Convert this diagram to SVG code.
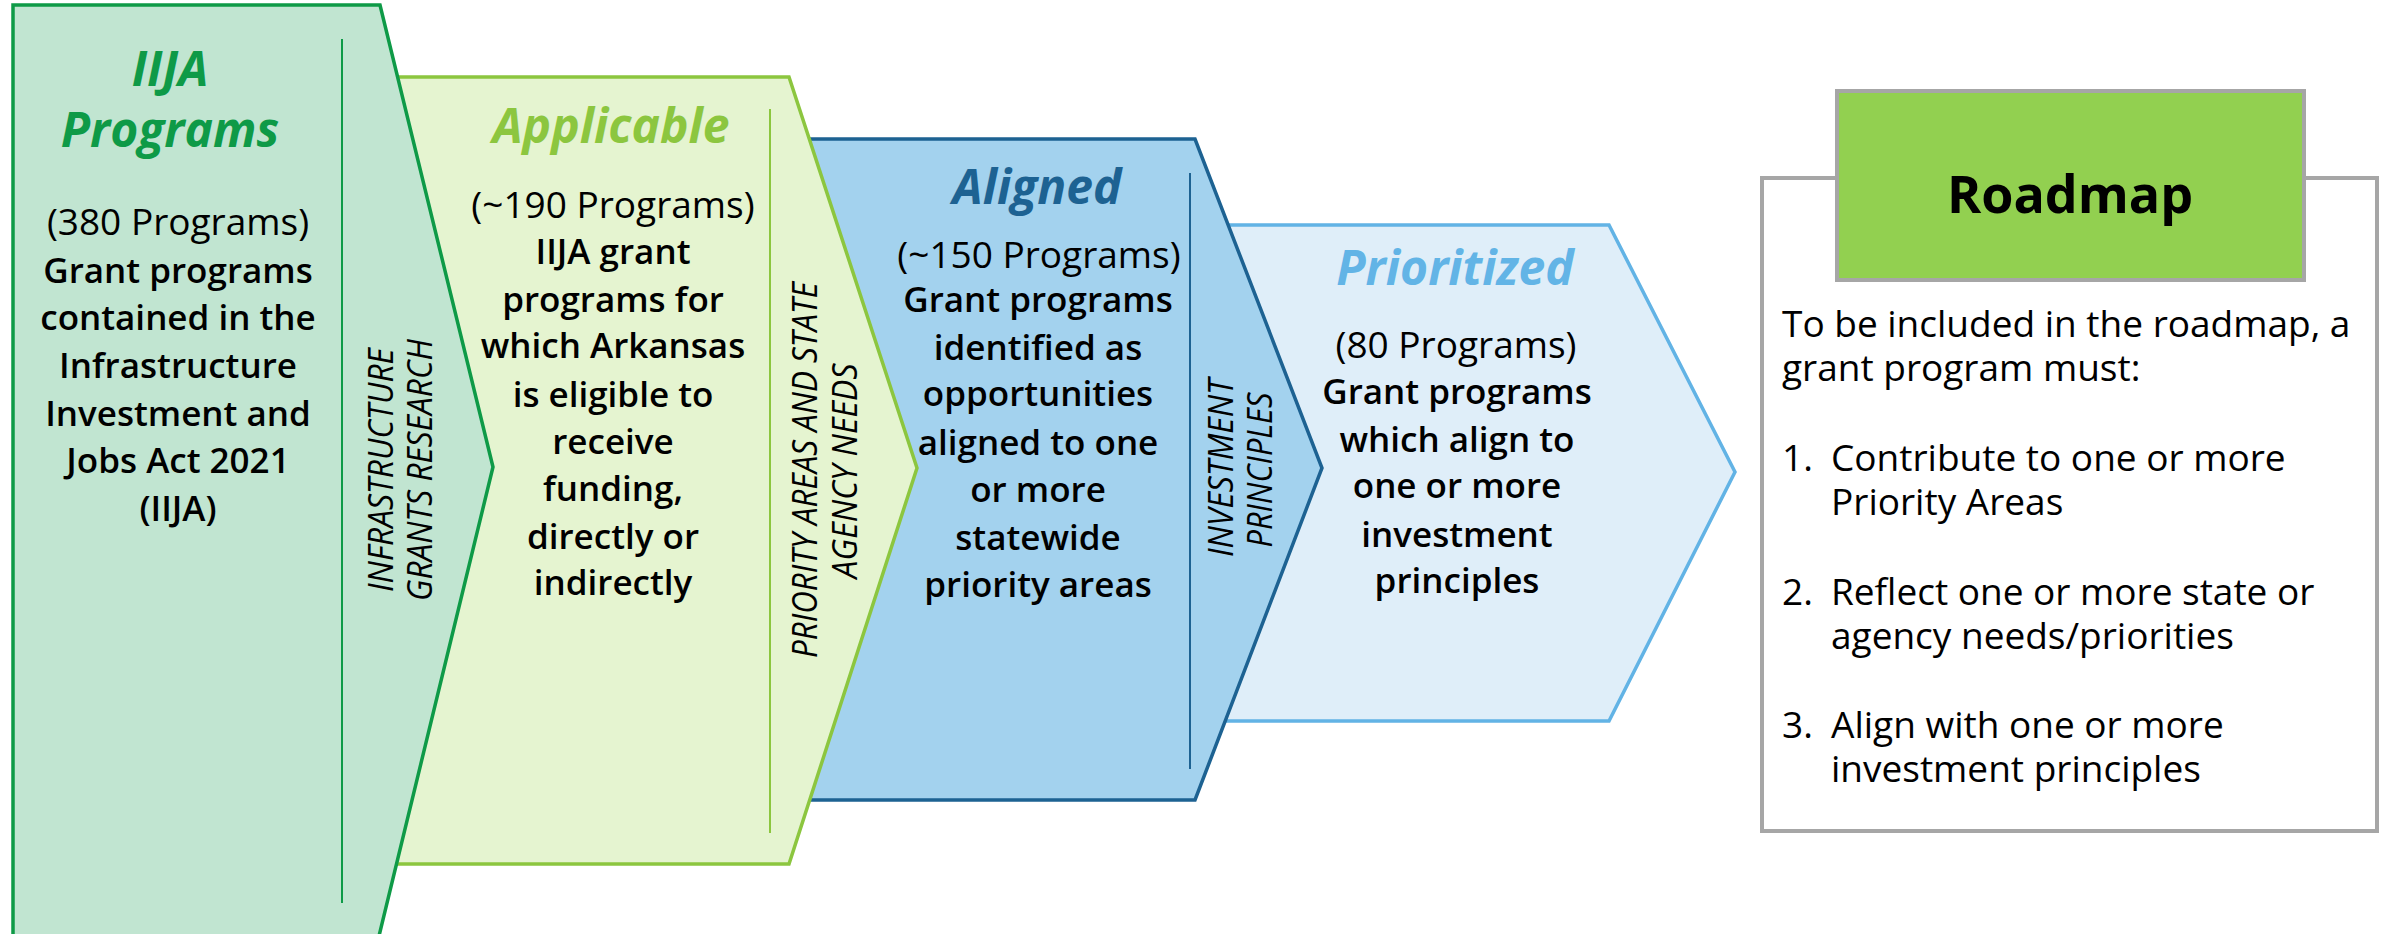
<svg xmlns="http://www.w3.org/2000/svg" width="2382" height="934" viewBox="0 0 2382 934">
<style>
.bg{fill:#ffffff}
.title{font-family:"Open Sans","Liberation Sans",sans-serif;font-weight:700;font-style:italic;font-size:48px;text-anchor:middle}
.reg{font-family:"Open Sans","Liberation Sans",sans-serif;font-weight:400;font-size:37px;text-anchor:middle;fill:#000}
.bold{font-family:"Open Sans","Liberation Sans",sans-serif;font-weight:600;font-size:35px;text-anchor:middle;fill:#000}
.lab{font-family:"Open Sans","Liberation Sans",sans-serif;font-weight:400;font-style:italic;font-size:35px;text-anchor:middle;fill:#000}
.rm{font-family:"Open Sans","Liberation Sans",sans-serif;font-weight:400;font-size:37px;fill:#000}
.n1{fill:#c1e5d1;stroke:#0e9a47;stroke-width:3.5}
.n2{fill:#e5f4d0;stroke:#8cc63f;stroke-width:3.5}
.n3{fill:#a3d2ee;stroke:#1d6292;stroke-width:3.5}
.n4{fill:#dfeef9;stroke:#62b3e5;stroke-width:3.5}
</style>
<rect class="bg" x="0" y="0" width="2382" height="934"/>
<g id="connectors"/>
<g id="node-prioritized">
  <polygon class="n4" points="1210,225 1609,225 1735,472 1609,721 1210,721"/>
  <text class="title" x="1455" y="285" fill="#62b4e6">Prioritized</text>
  <text class="reg" x="1456" y="358">(80 Programs)</text>
  <text class="bold" x="1457" y="404">Grant programs</text>
  <text class="bold" x="1457" y="452">which align to</text>
  <text class="bold" x="1457" y="498">one or more</text>
  <text class="bold" x="1457" y="547">investment</text>
  <text class="bold" x="1457" y="593">principles</text>
</g>
<g id="node-aligned">
  <polygon class="n3" points="795,139 1195,139 1322,468 1195,800 795,800"/>
  <line x1="1190" y1="173" x2="1190" y2="769" stroke="#1d6292" stroke-width="2"/>
  <text class="title" x="1037" y="204" fill="#1d6292">Aligned</text>
  <text class="reg" x="1039" y="268">(~150 Programs)</text>
  <text class="bold" x="1038" y="312">Grant programs</text>
  <text class="bold" x="1038" y="360">identified as</text>
  <text class="bold" x="1038" y="406">opportunities</text>
  <text class="bold" x="1038" y="455">aligned to one</text>
  <text class="bold" x="1038" y="502">or more</text>
  <text class="bold" x="1038" y="550">statewide</text>
  <text class="bold" x="1038" y="597">priority areas</text>
  <text class="lab" transform="translate(1233,468) rotate(-90)" textLength="178" lengthAdjust="spacingAndGlyphs">INVESTMENT</text>
  <text class="lab" transform="translate(1272,470) rotate(-90)" textLength="155" lengthAdjust="spacingAndGlyphs">PRINCIPLES</text>
</g>
<g id="node-applicable">
  <polygon class="n2" points="385,77 789,77 917,468 789,864 385,864"/>
  <line x1="770" y1="109" x2="770" y2="833" stroke="#8cc63f" stroke-width="2"/>
  <text class="title" x="611" y="143" fill="#8cc63f">Applicable</text>
  <text class="reg" x="613" y="218">(~190 Programs)</text>
  <text class="bold" x="613" y="264">IIJA grant</text>
  <text class="bold" x="613" y="312">programs for</text>
  <text class="bold" x="613" y="358">which Arkansas</text>
  <text class="bold" x="613" y="407">is eligible to</text>
  <text class="bold" x="613" y="454">receive</text>
  <text class="bold" x="613" y="501">funding,</text>
  <text class="bold" x="613" y="549">directly or</text>
  <text class="bold" x="613" y="595">indirectly</text>
  <text class="lab" transform="translate(817,470) rotate(-90)" textLength="376" lengthAdjust="spacingAndGlyphs">PRIORITY AREAS AND STATE</text>
  <text class="lab" transform="translate(857,471) rotate(-90)" textLength="215" lengthAdjust="spacingAndGlyphs">AGENCY NEEDS</text>
</g>
<g id="node-iija">
  <polygon class="n1" points="13,5 380,5 493,467 379,936 13,936"/>
  <line x1="342" y1="39" x2="342" y2="903" stroke="#0e9a47" stroke-width="2"/>
  <text class="title" x="170" y="86" fill="#0e9a47">IIJA</text>
  <text class="title" x="170" y="147" fill="#0e9a47">Programs</text>
  <text class="reg" x="178" y="235">(380 Programs)</text>
  <text class="bold" x="178" y="283">Grant programs</text>
  <text class="bold" x="178" y="330">contained in the</text>
  <text class="bold" x="178" y="378">Infrastructure</text>
  <text class="bold" x="178" y="426">Investment and</text>
  <text class="bold" x="178" y="473">Jobs Act 2021</text>
  <text class="bold" x="178" y="521">(IIJA)</text>
  <text class="lab" transform="translate(393,470) rotate(-90)" textLength="244" lengthAdjust="spacingAndGlyphs">INFRASTRUCTURE</text>
  <text class="lab" transform="translate(432,470) rotate(-90)" textLength="262" lengthAdjust="spacingAndGlyphs">GRANTS RESEARCH</text>
</g>
<g id="node-roadmap">
  <rect x="1762" y="178" width="615" height="653" fill="#ffffff" stroke="#a6a6a6" stroke-width="4"/>
  <rect x="1837" y="91" width="467" height="189" fill="#92d050" stroke="#a6a6a6" stroke-width="4"/>
  <text x="2070" y="213" font-family="Open Sans, Liberation Sans, sans-serif" font-weight="700" font-size="52" text-anchor="middle" fill="#000">Roadmap</text>
  <text class="rm" x="1782" y="337">To be included in the roadmap, a</text>
  <text class="rm" x="1782" y="381">grant program must:</text>
  <text class="rm" x="1782" y="471">1.</text>
  <text class="rm" x="1831" y="471">Contribute to one or more</text>
  <text class="rm" x="1831" y="515">Priority Areas</text>
  <text class="rm" x="1782" y="605">2.</text>
  <text class="rm" x="1831" y="605">Reflect one or more state or</text>
  <text class="rm" x="1831" y="649">agency needs/priorities</text>
  <text class="rm" x="1782" y="738">3.</text>
  <text class="rm" x="1831" y="738">Align with one or more</text>
  <text class="rm" x="1831" y="782">investment principles</text>
</g>
</svg>
